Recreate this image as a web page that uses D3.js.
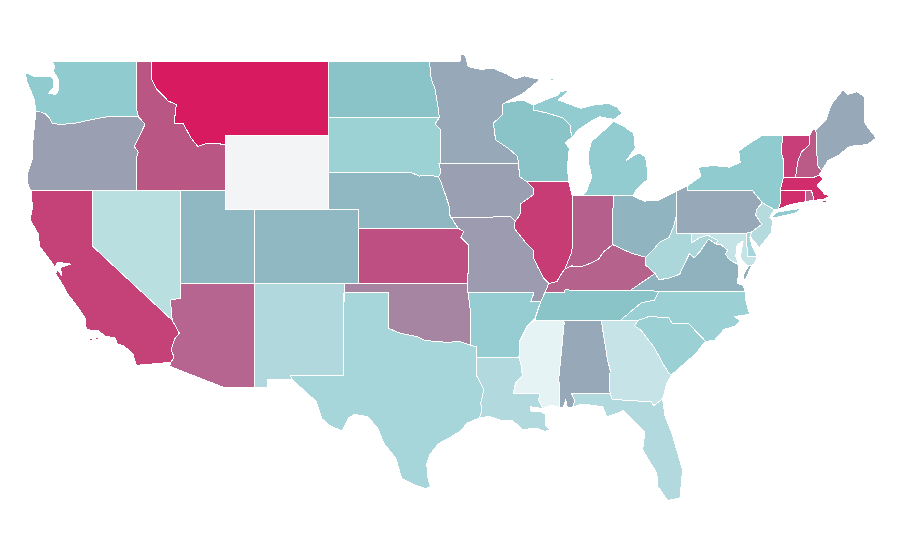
<!DOCTYPE html>
<html><head><meta charset="utf-8"><title>US states choropleth</title>
<script src="https://cdn.jsdelivr.net/npm/d3@7"></script>
<style>html,body{margin:0;background:#fff}svg{display:block}</style></head>
<body><svg id="map" width="900" height="560"></svg>
<script>
// Outlines in [longitude, latitude], each state a list of rings
const WA=[[[-117.03,49],[-122.76,49],[-122.6,48.75],[-122.65,48.4],[-122.42,48.15],[-122.3,47.9],[-122.35,47.4],[-122.5,47.2],[-123,47.25],[-122.65,47.6],[-122.65,48],[-122.8,48.15],[-123.2,48.15],[-124,48.17],[-124.55,48.38],[-124.5,47.95],[-124.2,47.4],[-123.95,46.9],[-123.85,46.27],[-123.5,46.25],[-123.2,46.15],[-122.9,45.9],[-122.75,45.65],[-122.2,45.58],[-121.2,45.65],[-120.6,45.75],[-119.6,45.92],[-119,46],[-116.92,46],[-117.04,46.42]]];
const OR=[[[-123.85,46.27],[-123.5,46.25],[-123.2,46.15],[-122.9,45.9],[-122.75,45.65],[-122.2,45.58],[-121.2,45.65],[-120.6,45.75],[-119.6,45.92],[-119,46],[-116.92,46],[-116.46,45.6],[-116.85,44.95],[-117.2,44.4],[-116.93,44.1],[-117.03,43.8],[-117.03,42],[-124.2,42],[-124.4,42.4],[-124.45,42.85],[-124.1,43.7],[-124.05,44.7],[-123.95,45.5]]];
const ID=[[[-117.03,49],[-116.05,49],[-116.05,48.05],[-115.7,47.5],[-114.9,46.85],[-114.35,46.65],[-114.5,45.65],[-113.9,45.65],[-113.35,44.85],[-112.9,44.4],[-112.3,44.55],[-111.5,44.55],[-111.05,44.48],[-111.05,42],[-117.03,42],[-117.03,43.8],[-116.93,44.1],[-117.2,44.4],[-116.85,44.95],[-116.46,45.6],[-116.92,46],[-117.04,46.42]]];
const MT=[[[-116.05,49],[-104.05,49],[-104.05,45],[-111.05,45],[-111.05,44.48],[-111.5,44.55],[-112.3,44.55],[-112.9,44.4],[-113.35,44.85],[-113.9,45.65],[-114.5,45.65],[-114.35,46.65],[-114.9,46.85],[-115.7,47.5],[-116.05,48.05]]];
const WY=[[[-111.05,45],[-104.05,45],[-104.05,41],[-111.05,41]]];
const UT=[[[-114.04,42],[-111.05,42],[-111.05,41],[-109.05,41],[-109.05,37],[-114.05,37]]];
const NV=[[[-120,42],[-114.04,42],[-114.05,36.2],[-114.75,36.1],[-114.63,35],[-120,39]]];
const CA=[[[-124.13,42],[-120,42],[-120,39],[-114.63,35],[-114.14,34.3],[-114.45,34],[-114.7,33.4],[-114.5,33],[-114.72,32.72],[-117.05,32.55],[-117.3,33.2],[-117.9,33.6],[-118.4,33.75],[-118.45,34.03],[-119.2,34.15],[-119.6,34.42],[-120.45,34.5],[-120.5,35.1],[-121,35.7],[-121.77,36.5],[-122.05,36.95],[-122.5,37.5],[-122.45,37.75],[-122.1,37.45],[-122.2,37.85],[-121.5,38.05],[-122.4,38.15],[-122.55,37.85],[-122.9,38.27],[-123.6,39],[-123.7,39.7],[-124.25,40.45],[-124.1,41]],[[-120.2,34],[-120,34.03],[-120,33.92],[-120.2,33.92]],[[-119.85,34.04],[-119.6,34.04],[-119.6,33.97],[-119.85,33.97]],[[-118.45,33.42],[-118.35,33.42],[-118.35,33.35],[-118.45,33.35]]];
const AZ=[[[-114.05,37],[-109.05,37],[-109.05,31.33],[-111.07,31.33],[-114.8,32.5],[-114.72,32.72],[-114.5,33],[-114.7,33.4],[-114.45,34],[-114.14,34.3],[-114.63,35],[-114.75,36.1],[-114.05,36.2]]];
const NM=[[[-109.05,37],[-103,37],[-103.04,32],[-106.62,32],[-106.53,31.78],[-108.2,31.78],[-108.2,31.33],[-109.05,31.33]]];
const CO=[[[-109.05,41],[-102.05,41],[-102.05,37],[-109.05,37]]];
const ND=[[[-104.05,49],[-97.23,49],[-97.1,48],[-96.85,47.5],[-96.6,46.3],[-96.56,45.94],[-104.05,45.94]]];
const SD=[[[-104.05,45.94],[-96.56,45.94],[-96.85,45.6],[-96.45,45.3],[-96.45,43.5],[-96.6,43.5],[-96.45,43.05],[-96.6,42.75],[-97.2,42.85],[-97.9,42.8],[-98.5,43],[-104.05,43]]];
const NE=[[[-104.05,43],[-98.5,43],[-97.9,42.8],[-97.2,42.85],[-96.6,42.75],[-96.45,42.5],[-96.1,41.7],[-95.9,41.2],[-95.85,40.7],[-95.3,40],[-102.05,40],[-102.05,41],[-104.05,41]]];
const KS=[[[-102.05,40],[-95.3,40],[-94.9,39.8],[-95.1,39.5],[-94.6,39.1],[-94.62,37],[-102.05,37]]];
const OK=[[[-103,37],[-94.62,37],[-94.62,36.5],[-94.43,35.4],[-94.48,33.65],[-95.2,33.85],[-96,33.8],[-96.8,33.85],[-97.5,33.9],[-98,34.1],[-99.2,34.3],[-100,34.56],[-100,36.5],[-103,36.5]]];
const TX=[[[-103,36.5],[-100,36.5],[-100,34.56],[-99.2,34.3],[-98,34.1],[-97.5,33.9],[-96.8,33.85],[-96,33.8],[-95.2,33.85],[-94.48,33.65],[-94.04,33.55],[-94.04,32],[-93.7,31.5],[-93.55,31.2],[-93.75,30.5],[-93.7,30.05],[-93.85,29.7],[-94.7,29.4],[-95.1,29],[-95.9,28.6],[-96.6,28.3],[-97.2,27.7],[-97.4,27.2],[-97.35,26.5],[-97.15,25.96],[-97.5,25.85],[-98.2,26.05],[-99.1,26.4],[-99.5,27.5],[-100.3,28.3],[-100.7,29.1],[-101.4,29.77],[-102.3,29.88],[-102.7,29.7],[-103.15,28.98],[-104,29.3],[-104.5,29.65],[-104.9,30.6],[-106,31.4],[-106.53,31.78],[-106.62,32],[-103.04,32]]];
const LA=[[[-94.04,33],[-91.17,33],[-91,32.5],[-90.95,32],[-91.4,31.6],[-91.55,31],[-89.75,31],[-89.85,30.65],[-89.55,30.2],[-90.4,30.3],[-90.35,30.05],[-89.75,30.05],[-89.4,29.9],[-89.4,29.3],[-89.1,29.05],[-89.4,28.95],[-90,29.15],[-90.9,29.05],[-91.6,29.55],[-92.3,29.55],[-93.2,29.78],[-93.85,29.7],[-93.7,30.05],[-93.75,30.5],[-93.55,31.2],[-93.7,31.5],[-94.04,32]]];
const AR=[[[-94.62,36.5],[-90.15,36.5],[-90.37,36],[-89.7,36],[-90.1,35.1],[-90.6,34.7],[-91.1,33.9],[-91.17,33],[-94.04,33],[-94.04,33.55],[-94.48,33.65],[-94.43,35.4]]];
const MO=[[[-95.77,40.58],[-91.73,40.6],[-91.42,40.38],[-91.5,40],[-90.75,39.25],[-90.2,38.8],[-90.2,38.4],[-89.9,37.9],[-89.5,37.3],[-89.15,37],[-89.42,36.5],[-89.7,36],[-90.37,36],[-90.15,36.5],[-94.62,36.5],[-94.62,37],[-94.6,39.1],[-95.1,39.5],[-94.9,39.8],[-95.3,40],[-95.85,40.7]]];
const IA=[[[-96.45,43.5],[-91.22,43.5],[-91.1,42.75],[-90.64,42.5],[-90.15,42.1],[-90.2,41.8],[-91.05,41.3],[-91.1,40.7],[-91.42,40.38],[-91.73,40.6],[-95.77,40.58],[-95.85,40.7],[-95.9,41.2],[-96.1,41.7],[-96.45,42.5],[-96.6,42.75],[-96.45,43.05],[-96.6,43.5]]];
const MN=[[[-97.23,49],[-95.15,49],[-95.15,49.38],[-94.8,49.3],[-94.6,48.7],[-93.8,48.55],[-92.9,48.6],[-92,48.3],[-91.4,48.05],[-90.8,48.2],[-89.75,48],[-90.8,47.3],[-92.1,46.75],[-92.3,46.65],[-92.3,46.1],[-92.9,45.65],[-92.75,44.75],[-91.9,44.3],[-91.25,43.85],[-91.22,43.5],[-96.45,43.5],[-96.45,45.3],[-96.85,45.6],[-96.56,45.94],[-96.6,46.3],[-96.85,47.5],[-97.1,48]]];
const WI=[[[-92.1,46.75],[-92.3,46.65],[-92.3,46.1],[-92.9,45.65],[-92.75,44.75],[-91.9,44.3],[-91.25,43.85],[-91.22,43.5],[-91.1,42.75],[-90.64,42.5],[-87.8,42.5],[-87.88,43.2],[-87.82,44],[-87.75,44.3],[-88.05,44.6],[-87.55,44.9],[-87.7,45.28],[-87.7,45.55],[-88.2,45.93],[-89.27,46.2],[-90.2,46.36],[-90.2,46.63],[-90.9,46.9],[-91.3,46.85]]];
const MI=[[[-90.2,46.36],[-89.27,46.2],[-88.2,45.93],[-87.7,45.55],[-87.7,45.28],[-87.55,44.9],[-87.15,45.3],[-86.3,45.75],[-85.7,46],[-84.75,45.85],[-84.2,46.18],[-84.5,46.5],[-85.1,46.72],[-86.1,46.63],[-87,46.45],[-88.5,46.9],[-87.75,47.43],[-88.4,47.35],[-88.5,47.17],[-89.07,47],[-90.2,46.63]],[[-84.75,45.75],[-85.3,45.35],[-85.9,44.9],[-86.25,44.7],[-86.5,43.95],[-86.45,43.5],[-86.25,42.75],[-86.6,42],[-86.82,41.76],[-84.8,41.76],[-83.45,41.73],[-83.2,42.1],[-82.5,42.6],[-82.45,43],[-82.6,43.8],[-83,44.05],[-83.4,43.9],[-83.9,43.65],[-83.3,44.3],[-83.4,45.1],[-84.1,45.5]],[[-89.1,48],[-88.75,48.1],[-88.9,47.95]]];
const IL=[[[-90.64,42.5],[-87.8,42.5],[-87.55,41.72],[-87.53,39.3],[-87.6,38.7],[-88.05,37.8],[-88.4,37.4],[-88.6,37.1],[-89.15,37],[-89.5,37.3],[-89.9,37.9],[-90.2,38.4],[-90.2,38.8],[-90.75,39.25],[-91.5,40],[-91.42,40.38],[-91.1,40.7],[-91.05,41.3],[-90.2,41.8],[-90.15,42.1]]];
const IN=[[[-87.55,41.72],[-87.2,41.76],[-84.8,41.76],[-84.82,39.1],[-85.4,38.75],[-85.8,38.3],[-86.3,38.1],[-87,37.9],[-87.6,37.95],[-88.05,37.8],[-87.6,38.7],[-87.53,39.3]]];
const OH=[[[-84.8,41.76],[-83.45,41.73],[-82.7,41.45],[-81.7,41.5],[-80.52,41.98],[-80.52,40.64],[-80.7,40.1],[-81,39.5],[-81.7,39.2],[-82,38.9],[-82.6,38.42],[-83.6,38.65],[-84.82,39.1]]];
const KY=[[[-89.15,37],[-88.6,37.1],[-88.4,37.4],[-88.05,37.8],[-87.6,37.95],[-87,37.9],[-86.3,38.1],[-85.8,38.3],[-85.4,38.75],[-84.82,39.1],[-83.6,38.65],[-82.6,38.42],[-82.6,38],[-81.97,37.54],[-83.68,36.6],[-88.07,36.65],[-88.07,36.5],[-89.42,36.5]]];
const TN=[[[-90.1,35],[-89.7,36],[-89.42,36.5],[-88.07,36.5],[-88.07,36.65],[-83.68,36.6],[-81.68,36.59],[-82,36.1],[-82.9,35.95],[-84.32,34.99],[-88.2,35]]];
const MS=[[[-90.1,35],[-88.2,35],[-88.1,34.9],[-88.47,31.9],[-88.4,30.25],[-89,30.4],[-89.55,30.2],[-89.85,30.65],[-89.75,31],[-91.55,31],[-91.4,31.6],[-90.95,32],[-91,32.5],[-91.17,33],[-91.1,33.9],[-90.6,34.7]]];
const AL=[[[-88.2,35],[-85.6,34.98],[-85.18,32.87],[-85,32.3],[-85.05,31.5],[-85,31],[-87.6,31],[-87.4,30.65],[-87.5,30.3],[-87.9,30.25],[-88,30.7],[-88.15,30.3],[-88.4,30.25],[-88.47,31.9],[-88.1,34.9]]];
const GA=[[[-85.6,34.98],[-83.1,35],[-83.35,34.7],[-82.9,34.45],[-82,33.5],[-81.4,32.6],[-81,32.1],[-80.85,32.03],[-81.2,31.5],[-81.45,30.72],[-82.05,30.36],[-82.2,30.57],[-84.86,30.7],[-85,31],[-85.05,31.5],[-85,32.3],[-85.18,32.87]]];
const FL=[[[-87.6,31],[-85,31],[-84.86,30.7],[-82.2,30.57],[-82.05,30.36],[-81.45,30.72],[-81.28,29.76],[-80.83,28.87],[-80.1,26.87],[-80.27,25.35],[-81.1,25.2],[-81.76,25.95],[-81.85,26.7],[-82.8,27.95],[-82.65,28.95],[-83.4,29.5],[-84.1,30.1],[-84.5,29.95],[-85.23,29.75],[-85.5,30.3],[-86.85,30.45],[-87.5,30.3],[-87.4,30.65]]];
const SC=[[[-83.35,34.7],[-83.1,35],[-82.4,35.2],[-81.05,35.15],[-80.8,34.82],[-79.67,34.8],[-78.55,33.86],[-79.2,33.2],[-79.9,32.7],[-80.85,32.03],[-81,32.1],[-81.4,32.6],[-82,33.5],[-82.9,34.45]]];
const NC=[[[-84.32,34.99],[-83.1,35],[-82.4,35.2],[-81.05,35.15],[-80.8,34.82],[-79.67,34.8],[-78.55,33.86],[-77.95,33.9],[-77.3,34.5],[-76.5,34.7],[-76.2,35],[-76.6,35.2],[-75.8,35.3],[-75.55,35.3],[-75.8,36],[-75.87,36.55],[-81.68,36.59],[-82,36.1],[-82.9,35.95]]];
const VA=[[[-83.68,36.6],[-81.68,36.59],[-75.87,36.55],[-76,36.9],[-76.4,37],[-76.3,37.6],[-76.3,38],[-76.95,38.3],[-77.2,38.6],[-77.04,38.8],[-77.5,39.1],[-77.83,39.13],[-78.35,39.4],[-78.9,38.75],[-79.3,38.4],[-79.65,38.6],[-80.3,37.5],[-81,37.3],[-81.68,37.2],[-81.97,37.54]],[[-75.95,37.15],[-75.95,37.5],[-75.65,37.95],[-75.4,38.03],[-75.8,37.3]]];
const WV=[[[-80.52,40.64],[-80.52,39.72],[-79.48,39.72],[-79.48,39.2],[-79,39.45],[-78.4,39.62],[-77.72,39.32],[-77.83,39.13],[-78.35,39.4],[-78.9,38.75],[-79.3,38.4],[-79.65,38.6],[-80.3,37.5],[-81,37.3],[-81.68,37.2],[-81.97,37.54],[-82.6,38],[-82.6,38.42],[-82,38.9],[-81.7,39.2],[-81,39.5],[-80.7,40.1]]];
const PA=[[[-80.52,41.98],[-79.76,42.27],[-79.76,42],[-75.35,42],[-74.7,41.36],[-75.1,41],[-75.15,40.7],[-74.75,40.2],[-75.4,39.8],[-75.8,39.72],[-80.52,39.72]]];
const NY=[[[-79.76,42.27],[-79.76,42],[-75.35,42],[-74.7,41.36],[-73.9,41],[-73.65,41],[-73.5,41.3],[-73.5,42.05],[-73.27,42.75],[-73.25,43.6],[-73.4,44],[-73.35,45.01],[-74.7,45],[-75.8,44.45],[-76.3,44.15],[-76.2,43.55],[-76.9,43.28],[-78,43.37],[-79.05,43.27],[-78.85,42.8]],[[-74.05,40.6],[-73.75,40.85],[-72.6,41],[-72,41.07],[-72.5,40.8],[-73.9,40.55]]];
const NJ=[[[-74.7,41.36],[-73.9,41],[-74.2,40.55],[-74,40.4],[-74.1,39.75],[-74.9,38.95],[-75.3,39.3],[-75.55,39.6],[-75.4,39.8],[-74.75,40.2],[-75.15,40.7],[-75.1,41]]];
const DE=[[[-75.8,39.72],[-75.4,39.8],[-75.55,39.5],[-75.4,39.05],[-75.05,38.45],[-75.7,38.46]]];
const MD=[[[-79.48,39.72],[-75.8,39.72],[-75.7,38.46],[-75.05,38.45],[-75.25,38.03],[-75.65,37.95],[-75.9,38.1],[-76.2,38.4],[-76,39.3],[-76.4,39.1],[-76.5,38.5],[-76.35,38.05],[-76.95,38.3],[-77.2,38.6],[-77.04,38.8],[-77.5,39.1],[-77.83,39.13],[-77.72,39.32],[-78.4,39.62],[-79,39.45],[-79.48,39.2]]];
const CT=[[[-73.65,41],[-73.5,41.3],[-73.5,42.05],[-71.8,42.02],[-71.8,41.42],[-72.9,41.25]]];
const RI=[[[-71.8,42.02],[-71.38,42.02],[-71.2,41.5],[-71.8,41.42]]];
const MA=[[[-73.5,42.05],[-73.27,42.75],[-72.46,42.73],[-71.3,42.7],[-70.85,42.87],[-70.6,42.65],[-71,42.3],[-70.65,42],[-70.5,41.8],[-70,41.75],[-70.6,41.55],[-71.1,41.5],[-71.2,41.5],[-71.38,42.02],[-71.8,42.02]],[[-70.6,41.48],[-70.1,41.42],[-70.6,41.38]]];
const VT=[[[-73.35,45.01],[-71.5,45.01],[-71.5,44.5],[-72.05,44.1],[-72.3,43.6],[-72.46,42.73],[-73.27,42.75],[-73.25,43.6],[-73.4,44]]];
const NH=[[[-71.5,45.01],[-71.3,45.3],[-71.08,45.3],[-70.98,43.4],[-70.7,43.07],[-70.85,42.87],[-71.3,42.7],[-72.46,42.73],[-72.3,43.6],[-72.05,44.1],[-71.5,44.5]]];
const ME=[[[-71.08,45.3],[-70.4,45.8],[-70.25,46.2],[-70,46.7],[-69.25,47.45],[-68.9,47.2],[-68.3,47.35],[-67.8,47.07],[-67.8,45.7],[-67.45,45.3],[-67,44.85],[-67.6,44.5],[-68.8,44.4],[-69.5,43.95],[-70.25,43.65],[-70.7,43.07],[-70.98,43.4]]];

const stateNames=["WA","OR","ID","MT","WY","UT","NV","CA","AZ","NM","CO","ND","SD","NE","KS","OK","TX","LA","AR","MO","IA","MN","WI","MI","IL","IN","OH","KY","TN","MS","AL","GA","FL","SC","NC","VA","WV","PA","NY","NJ","DE","MD","CT","RI","MA","VT","NH","ME"];
const stateRings=[WA,OR,ID,MT,WY,UT,NV,CA,AZ,NM,CO,ND,SD,NE,KS,OK,TX,LA,AR,MO,IA,MN,WI,MI,IL,IN,OH,KY,TN,MS,AL,GA,FL,SC,NC,VA,WV,PA,NY,NJ,DE,MD,CT,RI,MA,VT,NH,ME];
const stateColors=["#90cbd0","#9b9fb2","#b95683","#d81b60","#f3f4f6","#90b8c2","#b9dfe1","#c54278","#b5658f","#b1d8dd","#90b8c2","#8ac3c8","#9dd2d4","#90b8c2","#be4f82","#a685a3","#a6d5da","#b1d9de","#95cdd2","#9d9bb0","#9b9fb2","#97a9b8","#8ac3c8","#92cbd0","#c83c76","#b5608c","#90b5c0","#b5628c","#8ac3c8","#e5f3f5","#97a9b8","#c6e4e7","#b1d9de","#9bd1d4","#9bd1d4","#90b2be","#acd7da","#97a9b8","#8fcbcf","#b5dbde","#a6d5da","#c3e3e6","#d12d6c","#b5658f","#d12d6c","#c83e78","#b95a87","#97a9b8"];

const color=d3.scaleOrdinal(stateNames,stateColors);
const x=d3.scaleLinear().domain([-104,-67]).range([329.3,876.2]);
const y=d3.scaleLinear().domain([49,41,37,25]).range([61,209.5,283.5,504.3]);
const path=d3.geoPath(d3.geoTransform({point(lon,lat){this.stream.point(x(lon),y(lat));}}));
const features=stateNames.map((name,i)=>({type:"Feature",id:name,geometry:{type:"MultiPolygon",
  coordinates:stateRings[i].map(r=>[r.concat([r[0]])])}}));
d3.select("#map").selectAll("path").data(features).join("path")
  .attr("d",path).attr("fill",d=>color(d.id))
  .attr("stroke","#fff").attr("stroke-width",1).attr("stroke-linejoin","round")
  .attr("shape-rendering","crispEdges");
</script></body></html>
